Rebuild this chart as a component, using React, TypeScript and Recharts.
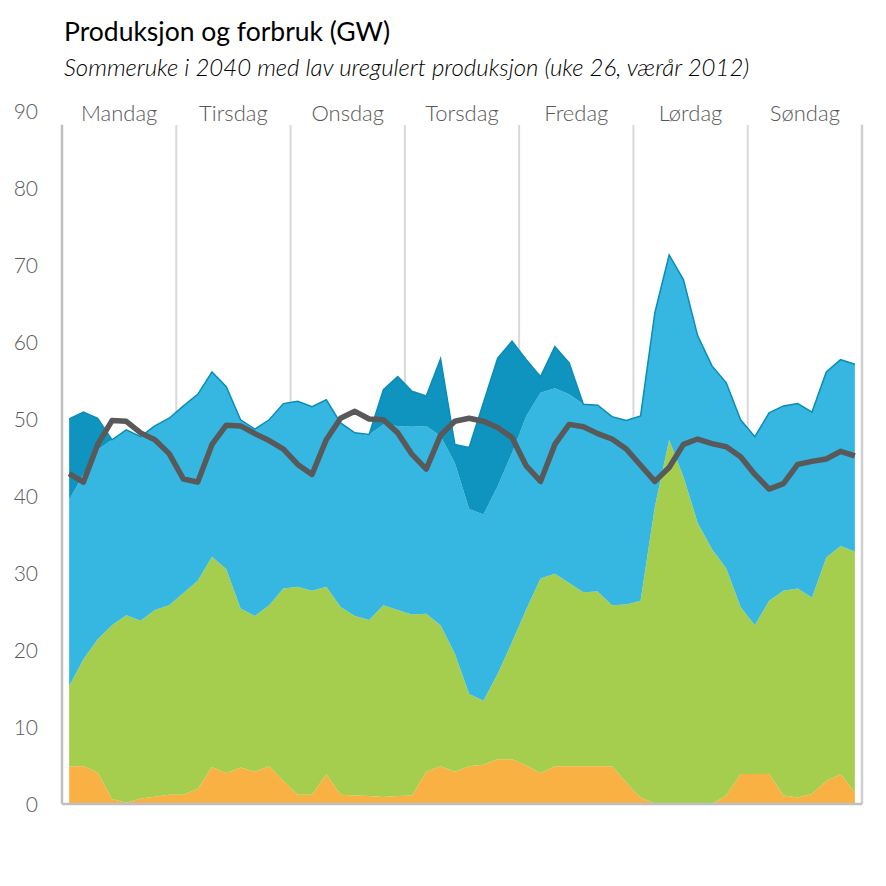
import {
  Area,
  CartesianGrid,
  ComposedChart,
  Line,
  ReferenceDot,
  ReferenceLine,
  XAxis,
  YAxis,
} from "recharts";

// 3-timers punkter, 8 per dag, mandag til søndag
const days = ["Mandag", "Tirsdag", "Onsdag", "Torsdag", "Fredag", "Lørdag", "Søndag"];
const yTicks = [0, 10, 20, 30, 40, 50, 60, 70, 80, 90];

const oransje = [
  4.9, 4.9, 4.1, 0.65, 0.15, 0.7, 0.95, 1.2,
  1.2, 1.95, 4.8, 4.0, 4.75, 4.2, 4.9, 3.0,
  1.2, 1.2, 3.85, 1.2, 1.1, 1.05, 0.9, 1.05,
  1.1, 4.2, 4.9, 4.2, 4.9, 5.1, 5.8, 5.8,
  5.0, 4.0, 4.9, 4.9, 4.9, 4.9, 4.9, 2.8,
  0.85, 0.1, 0, 0, 0, 0, 1.1, 3.9,
  3.9, 3.9, 1.1, 0.85, 1.3, 3.0, 3.9, 1.5,
];

const gronn = [
  10.4, 13.9, 17.3, 22.55, 24.35, 23.1, 24.25, 24.6,
  26.2, 27.05, 27.3, 26.5, 20.65, 20.2, 20.9, 25.0,
  27.0, 26.5, 24.35, 24.4, 23.3, 22.85, 24.9, 24.15,
  23.5, 20.5, 18.3, 15.3, 9.4, 8.3, 11.1, 15.2,
  20.3, 25.3, 25.0, 23.8, 22.6, 22.7, 20.9, 23.1,
  25.55, 38.5, 47.3, 42.5, 36.5, 33.1, 29.5, 21.7,
  19.3, 22.5, 26.6, 27.15, 25.5, 29.0, 29.6, 31.3,
];

const lysebla = [
  24.2, 24.0, 24.6, 24.1, 24.1, 23.9, 23.9, 24.3,
  24.3, 24.2, 24.0, 23.7, 24.5, 24.3, 24.1, 24.0,
  24.1, 23.9, 24.3, 23.9, 23.8, 24.1, 23.5, 23.9,
  24.4, 24.4, 24.6, 24.8, 24.0, 24.2, 24.4, 24.6,
  25.1, 24.1, 24.1, 24.5, 24.4, 24.2, 24.5, 23.9,
  24.0, 25.2, 24.0, 25.6, 24.3, 23.8, 24.1, 24.3,
  24.5, 24.4, 24.0, 24.0, 24.1, 24.1, 24.2, 24.3,
];

const morkebla = [
  10.5, 8.1, 4.1, 0, 0, 0, 0, 0,
  0, 0, 0, 0, 0, 0, 0, 0,
  0, 0, 0, 0, 0, 0, 4.5, 6.4,
  4.6, 3.9, 10.0, 2.4, 8.0, 14.5, 16.6, 14.5,
  7.3, 2.1, 5.4, 4.1, 0, 0, 0, 0,
  0, 0, 0, 0, 0, 0, 0, 0,
  0, 0, 0, 0, 0, 0, 0, 0,
];

const forbruk = [
  42.9, 41.8, 46.7, 49.8, 49.7, 48.2, 47.3, 45.5,
  42.2, 41.8, 46.7, 49.2, 49.1, 48.1, 47.2, 46.1,
  44.1, 42.8, 47.3, 50.1, 51.0, 50.0, 49.9, 48.2,
  45.4, 43.5, 47.9, 49.7, 50.1, 49.7, 48.9, 47.6,
  43.9, 41.9, 46.7, 49.3, 49.0, 48.1, 47.4, 46.1,
  44.0, 41.9, 43.7, 46.7, 47.4, 46.8, 46.4, 45.1,
  42.8, 40.9, 41.6, 44.1, 44.5, 44.8, 45.8, 45.2,
];

const data = forbruk.map((f, i) => ({
  i,
  oransje: oransje[i],
  gronn: gronn[i],
  lysebla: lysebla[i],
  morkebla: morkebla[i],
  forbruk: f,
}));

const FONT = "Lato, 'Open Sans', sans-serif";
const TEXT_GRAY = "#595959";
const LAST = data.length - 1;
const DAY_BOUNDS = days.slice(1).map((_, k) => 7.5 + 8 * k);

function YTick({ y, payload }: any) {
  return (
    <text x={38} y={y} dy={8} textAnchor="end" fill={TEXT_GRAY} fontSize={21} fontFamily={FONT} fontWeight={300}>
      {payload.value}
    </text>
  );
}

// dagsskille bak arealene
function dayLines({ xAxis, offset }: any) {
  return DAY_BOUNDS.map((v) => {
    if (xAxis && typeof xAxis.scale === "function") return xAxis.scale(v);
    return offset.left + (offset.width * (v + 0.5)) / data.length;
  });
}

export default function App() {
  return (
    <div style={{ position: "absolute", left: 0, top: 0, width: 886, height: 886, background: "#fff", fontFamily: FONT }}>
      <div style={{ position: "absolute", left: 64, top: 15.5, fontSize: 26.5, lineHeight: "30px", color: "#000", whiteSpace: "nowrap" }}>
        Produksjon og forbruk (GW)
      </div>
      <div style={{ position: "absolute", left: 64, top: 53, fontSize: 24, lineHeight: "28px", fontStyle: "italic", fontWeight: 300, color: "#000", whiteSpace: "nowrap" }}>
        Sommeruke i 2040 med lav uregulert produksjon (uke 26, værår 2012)
      </div>
      <ComposedChart width={886} height={886} data={data} margin={{ top: 111, right: 24, bottom: 82, left: 0 }}>
        <XAxis type="number" dataKey="i" domain={[-0.5, LAST + 0.5]} hide />
        <YAxis
          domain={[0, 90]}
          ticks={yTicks}
          interval={0}
          width={62}
          axisLine={false}
          tickLine={false}
          tick={(p: any) => <YTick {...p} />}
        />
        <CartesianGrid
          horizontal={false}
          y={125}
          height={679}
          stroke="#D9D9D9"
          strokeWidth={2}
          strokeDasharray=""
          verticalCoordinatesGenerator={dayLines}
        />
        <Area type="linear" dataKey="oransje" stackId="p" fill="#F9B143" fillOpacity={1} stroke="none" isAnimationActive={false} />
        <Area type="linear" dataKey="gronn" stackId="p" fill="#A6CE4E" fillOpacity={1} stroke="none" isAnimationActive={false} />
        <Area type="linear" dataKey="lysebla" stackId="p" fill="#35B7E1" fillOpacity={1} stroke="none" isAnimationActive={false} />
        <Area type="linear" dataKey="morkebla" stackId="p" fill="#0E94BF" fillOpacity={1} stroke="#0B8CB6" strokeWidth={1.5} isAnimationActive={false} />
        <Line
          type="linear"
          dataKey="forbruk"
          stroke="#595959"
          strokeWidth={5.5}
          dot={false}
          strokeLinejoin="round"
          isAnimationActive={false}
        />
        <ReferenceLine segment={[{ x: -0.5, y: 0 }, { x: -0.5, y: 88.2 }]} stroke="#BFBFBF" strokeWidth={2.5} />
        <ReferenceLine segment={[{ x: LAST + 0.5, y: 0 }, { x: LAST + 0.5, y: 88.2 }]} stroke="#D0D0D0" strokeWidth={2.5} />
        <ReferenceLine y={0} stroke="#BFBFBF" strokeWidth={2.5} />
        {days.map((d, k) => (
          <ReferenceDot
            key={d}
            x={3.5 + 8 * k}
            y={89.75}
            r={0}
            fill="none"
            stroke="none"
            label={{ value: d, position: "center", fill: TEXT_GRAY, fontSize: 22, fontFamily: FONT, fontWeight: 300 }}
          />
        ))}
      </ComposedChart>
    </div>
  );
}
